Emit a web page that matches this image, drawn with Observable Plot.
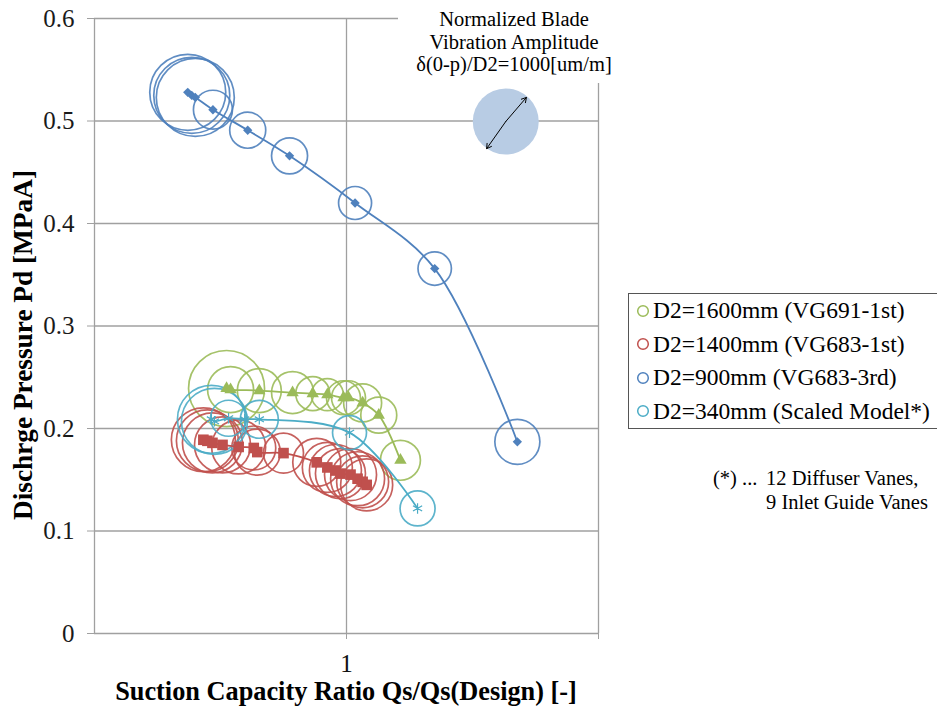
<!DOCTYPE html>
<html><head><meta charset="utf-8">
<script src="https://cdn.jsdelivr.net/npm/d3@7"></script>
<script src="https://cdn.jsdelivr.net/npm/@observablehq/plot@0.6"></script>
<style>
body{margin:0;background:#fff;}
#wrap{position:relative;width:937px;height:710px;font-family:"Liberation Serif","Times New Roman",serif;color:#000;overflow:hidden;}
#chart{position:absolute;left:0;top:0;}
.abs{position:absolute;white-space:nowrap;}
#legend{left:628px;top:293px;width:310px;height:136px;border:1px solid #555;background:#fff;box-sizing:border-box;font-size:23.5px;}
#legend .row{display:flex;align-items:center;height:33.5px;}
#legend svg{margin-left:7px;margin-right:3px;}
</style></head><body>
<div id="wrap">
  <div id="chart"></div>
  <div class="abs" style="left:398px;top:0;width:240px;height:83px;background:#fff"></div>
  <div class="abs" id="annot" style="left:404px;top:8px;width:220px;text-align:center;font-size:20.5px;line-height:22.5px;"></div>
  <div class="abs" id="ytitle" style="left:23px;top:345px;transform:translate(-50%,-50%) rotate(-90deg);font-weight:bold;font-size:27.3px;"></div>
  <div class="abs" id="xtitle" style="left:346px;top:692px;transform:translate(-50%,-50%);font-weight:bold;font-size:26.3px;"></div>
  <div class="abs" id="legend"></div>
  <div class="abs" id="foot" style="left:713px;top:466px;font-size:20.5px;line-height:24px;"></div>
</div>
<script>
// ---- axis / text ----
const yTicks = [0, 0.1, 0.2, 0.3, 0.4, 0.5, 0.6];
const xTicks = [1, 1.5];
const xTickLabels = ["1", ""];
const yTitle = "Dischrge Pressure Pd [MPaA]";
const xTitle = "Suction Capacity Ratio Qs/Qs(Design) [-]";
const annotLines = ["Normalized Blade", "Vibration Amplitude", "\u03b4(0-p)/D2=1000[um/m]"];
const seriesNames = ["D2=1600mm (VG691-1st)", "D2=1400mm (VG683-1st)", "D2=900mm (VG683-3rd)", "D2=340mm (Scaled Model*)"];
const seriesColors = ["#9bbb59", "#c0504d", "#4f81bd", "#4bacc6"];
const footLead = "(*) ... ";
const footLines = ["12 Diffuser Vanes,", "9 Inlet Guide Vanes"];

// ---- data: x = Qs/Qs(design), y = Pd [MPaA], amp = δ(0-p)/D2 [um/m] ----
const green_x = [0.762, 0.770, 0.827, 0.893, 0.933, 0.962, 0.994, 1.004, 1.032, 1.064, 1.107];
const green_y = [0.239, 0.238, 0.237, 0.235, 0.234, 0.233, 0.230, 0.230, 0.225, 0.213, 0.169];
const green_amp = [1326, 486, 444, 405, 265, 235, 265, 265, 331, 297, 367];

const red_x = [0.716, 0.724, 0.734, 0.754, 0.786, 0.816, 0.823, 0.875, 0.941, 0.962, 0.978, 0.988, 1.008, 1.022, 1.032, 1.040];
const red_y = [0.189, 0.188, 0.186, 0.184, 0.182, 0.181, 0.177, 0.176, 0.167, 0.162, 0.159, 0.156, 0.155, 0.151, 0.148, 0.145];
const red_amp = [940, 882, 826, 720, 669, 444, 486, 367, 529, 574, 621, 574, 621, 669, 621, 621];

const blue_x = [0.685, 0.693, 0.700, 0.735, 0.804, 0.887, 1.017, 1.175, 1.339];
const blue_y = [0.528, 0.525, 0.523, 0.511, 0.491, 0.466, 0.420, 0.356, 0.187];
const blue_amp = [1326, 1326, 1397, 349, 298, 298, 250, 256, 465];

const cyan_x = [0.732, 0.738, 0.766, 0.798, 0.827, 1.006, 1.141];
const cyan_y = [0.209, 0.207, 0.210, 0.209, 0.209, 0.196, 0.122];
const cyan_amp = [1061, 1000, 298, 0, 331, 265, 281];

// reference bubble (1000 um/m) and its double arrow
const ref_x = [1.316], ref_y = [0.4995], ref_amp = [1000];
const arrow_x2 = [1.278, 1.357], arrow_y2 = [0.473, 0.523];

// ---- build tables ----
const mk = (xs, ys, as) => xs.map((x, i) => ({x, y: ys[i], amp: as[i]}));
const green = mk(green_x, green_y, green_amp);
const red = mk(red_x, red_y, red_amp);
const blue = mk(blue_x, blue_y, blue_amp);
const cyan = mk(cyan_x, cyan_y, cyan_amp);
const refB = mk(ref_x, ref_y, ref_amp);
const arrows = arrow_x2.map((x2, i) => ({x1: ref_x[0], y1: ref_y[0], x2, y2: arrow_y2[i]}));

const G = "#a0a0a0";
const bubble = (data, c) => Plot.dot(data.filter(d => d.amp > 0), {x: "x", y: "y", r: "amp", stroke: c, strokeWidth: 1.7, fill: "none", strokeOpacity: 0.9});
const line = (data, c) => Plot.line(data, {x: "x", y: "y", stroke: c, strokeWidth: 1.8, curve: "catmull-rom"});

const chart = Plot.plot({
  width: 937, height: 710,
  marginLeft: 94, marginRight: 339, marginTop: 18, marginBottom: 77,
  x: {domain: [0.5, 1.5]},
  y: {domain: [0, 0.6]},
  r: {type: "sqrt", domain: [0, 1000], range: [0, 33]},
  style: {fontFamily: "Liberation Serif, Times New Roman, serif", background: "transparent", color: "#222"},
  marks: [
    Plot.gridY(yTicks.filter(d => d > 0), {stroke: G, strokeOpacity: 1, strokeWidth: 1.3}),
    Plot.gridX(xTicks, {stroke: G, strokeOpacity: 1, strokeWidth: 1.3}),
    Plot.ruleX([0.5], {stroke: G, strokeWidth: 1.3}),
    Plot.ruleY([0], {stroke: G, strokeWidth: 1.3}),
    Plot.axisY(yTicks, {anchor: "left", tickSize: 7, tickPadding: 13, fontSize: 25, tickFormat: d => String(+d.toFixed(1)), label: null, stroke: G, fill: "#1a1a1a"}),
    Plot.axisX(xTicks, {anchor: "bottom", tickSize: 6, tickPadding: 15, fontSize: 25, tickFormat: (d, i) => xTickLabels[xTicks.indexOf(d)], label: null, stroke: G, fill: "#111"}),
    Plot.dot(refB, {x: "x", y: "y", r: "amp", fill: "#b8cce4", stroke: "none"}),
    Plot.arrow(arrows, {x1: "x1", y1: "y1", x2: "x2", y2: "y2", stroke: "#000", strokeWidth: 1, headLength: 8}),
    bubble(green, seriesColors[0]),
    bubble(red, seriesColors[1]),
    bubble(blue, seriesColors[2]),
    bubble(cyan, seriesColors[3]),
    line(green, seriesColors[0]),
    line(red, seriesColors[1]),
    line(blue, seriesColors[2]),
    line(cyan, seriesColors[3]),
    Plot.dot(green, {x: "x", y: "y", symbol: "triangle", r: 4.6, fill: seriesColors[0]}),
    Plot.dot(red, {x: "x", y: "y", symbol: "square", r: 6, fill: seriesColors[1]}),
    Plot.dot(blue, {x: "x", y: "y", symbol: "diamond2", r: 4.2, fill: seriesColors[2], stroke: "none"}),
    Plot.dot(cyan, {x: "x", y: "y", symbol: "asterisk", r: 5, stroke: seriesColors[3], strokeWidth: 1.2})
  ]
});
document.getElementById("chart").appendChild(chart);

document.getElementById("annot").innerHTML = annotLines.map(t => `<div>${t}</div>`).join("");
document.getElementById("ytitle").textContent = yTitle;
document.getElementById("xtitle").textContent = xTitle;
document.getElementById("legend").innerHTML = seriesNames.map((n, i) =>
  `<div class="row"><svg width="14" height="14"><circle cx="7" cy="7" r="5.3" fill="none" stroke="${seriesColors[i]}" stroke-width="1.5"/></svg><span>${n}</span></div>`).join("");
document.getElementById("foot").innerHTML =
  `<div style="display:flex"><span style="width:53px;display:inline-block">${footLead}</span><div>${footLines.map(t => `<div>${t}</div>`).join("")}</div></div>`;
</script>
</body></html>
